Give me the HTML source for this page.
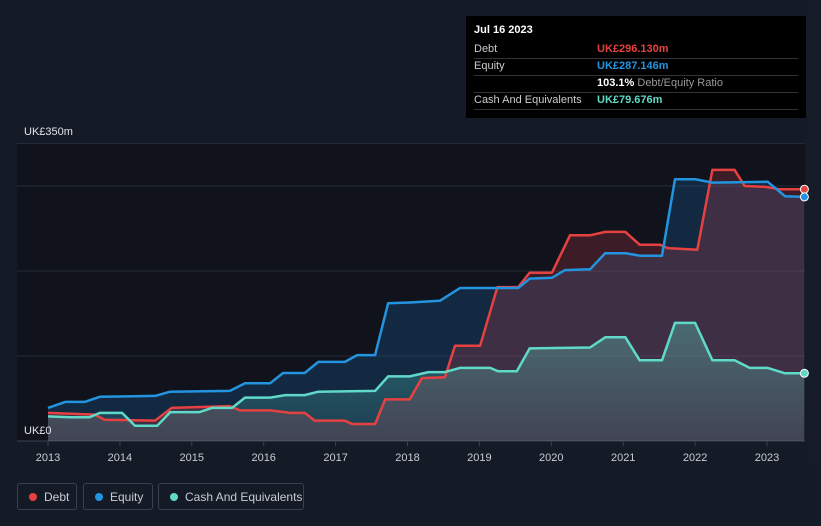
<!DOCTYPE html>
<html><head><meta charset="utf-8"><style>
body{margin:0;width:821px;height:526px;background:#151b26;font-family:"Liberation Sans",sans-serif;overflow:hidden;position:relative}
.leg{position:absolute;top:483px;height:27px;border:1px solid #3a414e;border-radius:3px;color:#c8ccd2;font-size:12px;line-height:27px;box-sizing:border-box;padding-left:26px}
.leg i{position:absolute;left:11px;top:9px;width:8px;height:8px;border-radius:50%}
#tip{position:absolute;left:466px;top:16px;width:340px;height:102px;background:#000;color:#ccc;font-size:11px}
#tip .r{position:absolute;left:8px;width:324px;height:17px;border-bottom:1px solid #333;line-height:17px}
#tip .v{position:absolute;left:123px;font-weight:bold}
</style></head><body>
<svg id="chart" width="821" height="526" style="position:absolute;left:0;top:0">
<rect x="17" y="144" width="788" height="297" fill="#10131b"/>
<rect x="805" y="0" width="16" height="470" fill="#161c27"/>
<defs><linearGradient id="cg" x1="0" y1="0" x2="0" y2="1"><stop offset="0" stop-color="#5fd9c8" stop-opacity="0.35"/><stop offset="1" stop-color="#5fd9c8" stop-opacity="0.12"/></linearGradient></defs>
<g id="grid"></g><g id="areas"></g><g id="lines"></g><g id="xt"></g>
<text x="24" y="135" fill="#e0e3e8" font-size="11">UK£350m</text>
<text x="24" y="434" fill="#e0e3e8" font-size="11">UK£0</text>
</svg>
<div id="tip">
<div style="position:absolute;left:8px;top:8px;color:#fff;font-weight:bold;font-size:11px">Jul 16 2023</div>
<div class="r" style="top:25px">Debt<span class="v" style="color:#e64141">UK£296.130m</span></div>
<div class="r" style="top:42px">Equity<span class="v" style="color:#2394df">UK£287.146m</span></div>
<div class="r" style="top:59px"><span class="v" style="color:#fff">103.1% <span style="color:#999;font-weight:normal">Debt/Equity Ratio</span></span></div>
<div class="r" style="top:76px">Cash And Equivalents<span class="v" style="color:#5fd9c8">UK£79.676m</span></div>
</div>
<div class="leg" style="left:17px;width:60px"><i style="background:#e64141"></i>Debt</div>
<div class="leg" style="left:83px;width:70px"><i style="background:#2394df"></i>Equity</div>
<div class="leg" style="left:158px;width:146px"><i style="background:#5fd9c8"></i>Cash And Equivalents</div>
<script>
const debtT=[0,.65,.79,1.49,1.72,2.53,2.67,3.09,3.37,3.57,3.71,4.13,4.23,4.55,4.69,5.03,5.20,5.52,5.66,6.01,6.25,6.54,6.70,7.01,7.26,7.54,7.75,8.03,8.23,8.51,8.62,9.03,9.24,9.55,9.69,9.97,10.18,10.52];
const debtV=[33,31,25,24,39,41,36,36,33,33,24,24,20,20,49,49,74,75,112,112,181,181,198,198,242,242,246,246,231,231,227,225,319,319,300,299,296.13,296.13];
const equityT=[0,.24,.51,.72,1.49,1.70,2.53,2.74,3.09,3.27,3.57,3.76,4.13,4.30,4.55,4.73,5.03,5.45,5.73,6.22,6.54,6.70,7.01,7.19,7.54,7.75,8.03,8.23,8.54,8.72,9.00,9.24,10.01,10.25,10.52];
const equityV=[39,46,46,52,53,58,59,68,68,80,80,93,93,101,101,162,163,165,180,180,180,191,192,201,202,221,221,218,218,308,308,304,305,288,287.146];
const cashT=[0,.31,.58,.72,1.03,1.21,1.52,1.70,2.11,2.28,2.56,2.74,3.09,3.30,3.57,3.76,4.55,4.73,5.03,5.29,5.52,5.73,6.15,6.26,6.52,6.70,7.54,7.75,8.03,8.23,8.54,8.72,9.00,9.24,9.55,9.76,10.01,10.25,10.52];
const cashV=[29,28,28,33,33,18,18,34,34,39,39,51,51,54,54,58,59,76,76,81,81,86,86,82,82,109,110,122,122,95,95,139,139,95,95,86,86,79.676,79.676];
const yTicks=[0,100,200,300,350];
const xLabels=[2013,2014,2015,2016,2017,2018,2019,2020,2021,2022,2023];
const X=t=>48+t*71.9, Y=v=>441-v*0.85;
const NS='http://www.w3.org/2000/svg';
function mk(tag,at,parent){const e=document.createElementNS(NS,tag);for(const k in at)e.setAttribute(k,at[k]);document.getElementById(parent).appendChild(e);return e;}
yTicks.forEach(v=>{const l=mk('line',{x1:17,x2:805,y1:Y(v),y2:Y(v),stroke:v==0?'#3a414e':'#262b36','stroke-width':1},'grid');

});
xLabels.forEach(yr=>{const x=X(yr-2013);mk('line',{x1:x,x2:x,y1:441,y2:446,stroke:'#3a414e'},'xt');
const t=mk('text',{x:x,y:461,fill:'#c8ccd2','font-size':11,'text-anchor':'middle'},'xt');t.textContent=yr;

});
function pts(T,V){return T.map((t,i)=>X(t).toFixed(1)+','+Y(V[i]).toFixed(1)).join(' ');}
function area(T,V){return X(T[0])+',441 '+pts(T,V)+' '+X(T[T.length-1])+',441';}
const ae=mk('polygon',{points:area(equityT,equityV),fill:'rgba(30,130,220,0.2)'},'areas');


const ad=mk('polygon',{points:area(debtT,debtV),fill:'rgba(220,70,80,0.22)'},'areas');


const ac=mk('polygon',{points:area(cashT,cashV),fill:'url(#cg)'},'areas');


[[debtT,debtV,'#e64141','debt'],[equityT,equityV,'#2394df','equity'],[cashT,cashV,'#5fd9c8','cash']].forEach(s=>{
const l=mk('polyline',{points:pts(s[0],s[1]),fill:'none',stroke:s[2],'stroke-width':2.5,'stroke-linejoin':'round'},'lines');


const n=s[0].length-1;
const c=mk('circle',{cx:X(s[0][n]),cy:Y(s[1][n]),r:4,fill:s[2],stroke:'#fff','stroke-width':1},'lines');

});
</script>
</body></html>
